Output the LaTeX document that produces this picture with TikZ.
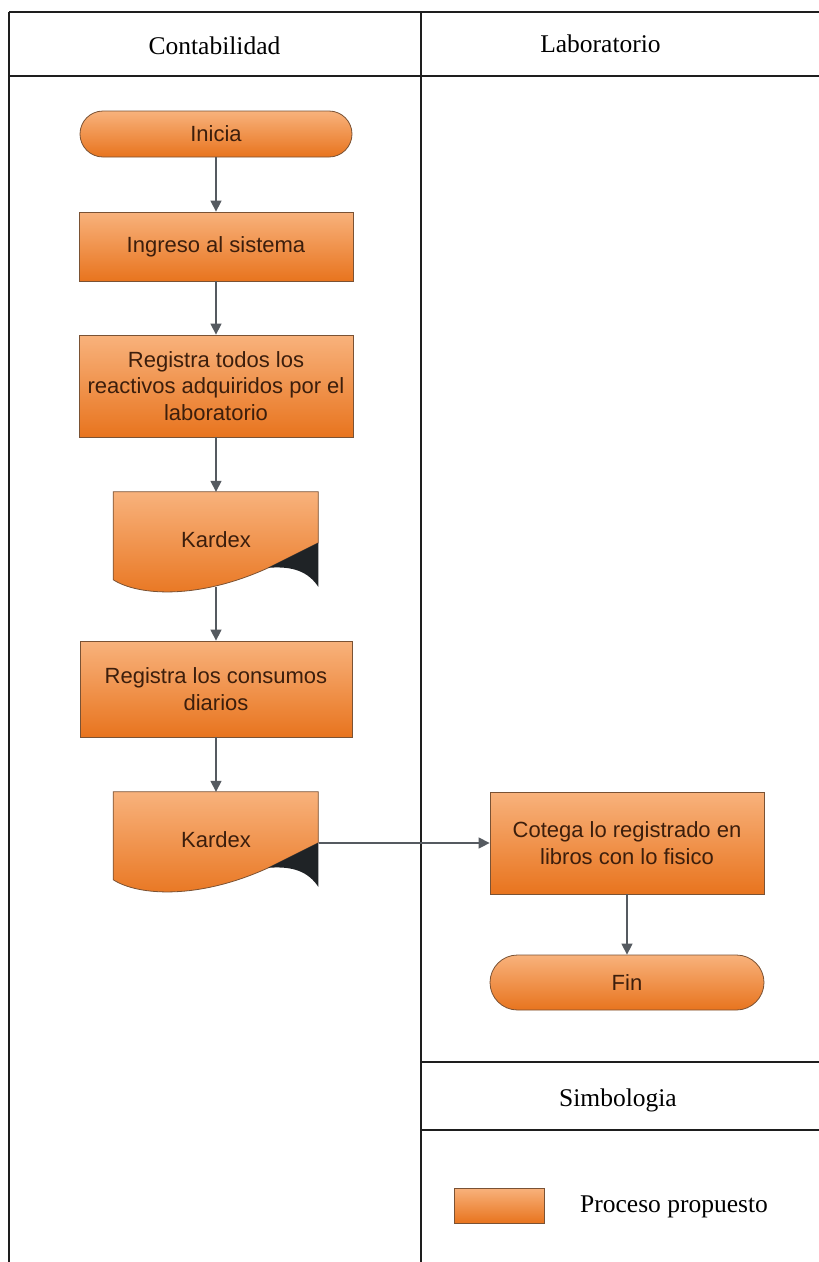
\documentclass[tikz,border=0pt]{standalone}
\usepackage{fontspec}
\setmainfont{Liberation Serif}
\setsansfont{Liberation Sans}
\usetikzlibrary{arrows.meta,calc,shapes.misc,backgrounds}

\definecolor{orTop}{HTML}{F8B27C}
\definecolor{orBot}{HTML}{E8741E}
\definecolor{orEdge}{HTML}{7A5234}
\definecolor{txtBrown}{HTML}{3C1E0C}
\definecolor{flowGray}{HTML}{555A60}
\definecolor{laneLine}{HTML}{1E1E1E}
\definecolor{curlDark}{HTML}{1F2326}

\tikzset{
  lane/.style={draw=laneLine, line width=1.6pt},
  lanehead/.style={font=\fontsize{25.5}{30}\selectfont, text=black, inner sep=0pt},
  procbox/.style={rectangle, draw=orEdge, line width=0.8pt,
    top color=orTop, bottom color=orBot, align=center, text=txtBrown,
    font=\sffamily\fontsize{22}{26.5}\selectfont, inner sep=0pt},
  terminal/.style={procbox, rounded rectangle},
  docnode/.style={rectangle, draw=none, align=center, text=txtBrown,
    font=\sffamily\fontsize{22}{26.5}\selectfont, inner sep=0pt,
    minimum width=205pt, minimum height=95pt},
  docfill/.style={draw=orEdge, line width=0.8pt, top color=orTop, bottom color=orBot},
  flow/.style={draw=flowGray, line width=1.4pt, -{Triangle[length=11pt,width=11pt]}}
}

% document symbol with a curled lower-right corner, drawn behind node #1
\newcommand{\docsymbol}[1]{%
  \begin{scope}[on background layer, shift={(#1.north west)}]
    \path[docfill] (0,0) -- (205,0) -- (205,51) -- (155,76)
      .. controls (85,108) and (25,104) .. (0,88) -- cycle;
    \fill[curlDark] (155,76) -- (205,51) -- (205,95)
      .. controls (195,80) and (180,74) .. (155,76) -- cycle;
  \end{scope}}

\begin{document}
\begin{tikzpicture}[x=1pt, y=-1pt]
  \useasboundingbox (0,0) rectangle (819,1262);
  \begin{scope}[on background layer]
    \fill[white] (0,0) rectangle (819,1262);
  \end{scope}

  % swimlane frame
  \draw[lane] (9,12) -- (819,12);
  \draw[lane] (9,76) -- (819,76);
  \draw[lane] (9,12) -- (9,1262);
  \draw[lane] (421,12) -- (421,1262);
  \draw[lane] (421,1062) -- (819,1062);
  \draw[lane] (421,1130) -- (819,1130);

  \node[lanehead] (hContab) at (214.5,46) {Contabilidad};
  \node[lanehead] (hLab) at (600.5,44) {Laboratorio};
  \node[lanehead] (hSimb) at (618,1100) {Simbologia};

  % Contabilidad lane
  \node[terminal, minimum width=272pt, minimum height=46pt] (inicia) at (216,134) {Inicia};
  \node[procbox, minimum width=274pt, minimum height=69pt] (ingreso) at (216,246.5) {Ingreso al sistema};
  \node[procbox, minimum width=274pt, minimum height=102pt] (registra) at (216,386)
    {Registra todos los\\reactivos adquiridos por el\\laboratorio};
  \node[docnode] (kardexA) at (216,539.5) {Kardex};
  \docsymbol{kardexA}
  \node[procbox, minimum width=272pt, minimum height=96pt] (consumos) at (216,689)
    {Registra los consumos\\diarios};
  \node[docnode] (kardexB) at (216,839.5) {Kardex};
  \docsymbol{kardexB}

  % Laboratorio lane
  \node[procbox, minimum width=274pt, minimum height=102pt] (cotega) at (627,843)
    {Cotega lo registrado en\\libros con lo fisico};
  \node[terminal, minimum width=274pt, minimum height=55pt] (fin) at (627,982.5) {Fin};

  % flow
  \draw[flow] (inicia.south) -- (ingreso.north);
  \draw[flow] (ingreso.south) -- (registra.north);
  \draw[flow] (registra.south) -- (kardexA.north);
  \draw[flow] (kardexA.south) -- (consumos.north);
  \draw[flow] (consumos.south) -- (kardexB.north);
  \draw[flow] (kardexB.east |- cotega.west) -- (cotega.west);
  \draw[flow] (cotega.south) -- (fin.north);

  % legend
  \node[procbox, minimum width=90pt, minimum height=35pt] (legendBox) at (499,1205.5) {};
  \node[lanehead, anchor=west] (legendText) at (580,1207) {Proceso propuesto};
\end{tikzpicture}
\end{document}
